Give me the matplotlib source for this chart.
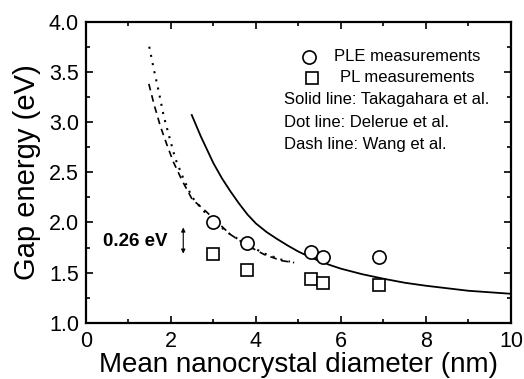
import matplotlib
matplotlib.use("Agg")
import matplotlib.pyplot as plt
from matplotlib.ticker import MultipleLocator, FormatStrFormatter

plt.rcParams['font.family'] = ['Liberation Sans', 'DejaVu Sans']

# PLE measurements (circles)
ple_d = [3.0, 3.8, 5.3, 5.58, 6.9]
ple_e = [2.00, 1.80, 1.71, 1.66, 1.66]
# PL measurements (squares)
pl_d = [2.98, 3.80, 5.30, 5.58, 6.90]
pl_e = [1.69, 1.53, 1.44, 1.40, 1.38]

# Solid line: Takagahara et al.
tak_d = [2.49, 2.6, 2.7, 2.8, 2.9, 3.0, 3.2, 3.4, 3.6, 3.8, 4.0, 4.25, 4.5, 4.75,
         5.0, 5.25, 5.5, 5.75, 6.0, 6.5, 7.0, 7.5, 8.0, 8.5, 9.0, 9.5, 10.0]
tak_e = [3.07, 2.96, 2.86, 2.77, 2.68, 2.59, 2.44, 2.31, 2.19, 2.08, 1.99, 1.905, 1.835, 1.77,
         1.71, 1.66, 1.615, 1.575, 1.54, 1.485, 1.44, 1.40, 1.37, 1.345, 1.32, 1.305, 1.29]

# Dot line: Delerue et al.
del_d = [1.49, 1.60, 1.72, 1.83, 1.97, 2.10, 2.30, 2.50, 2.80, 3.10, 3.40, 3.80, 4.20, 4.60, 4.80]
del_e = [3.75, 3.52, 3.29, 3.06, 2.84, 2.64, 2.43, 2.25, 2.10, 1.98, 1.88, 1.78, 1.69, 1.63, 1.61]

# Dash line: Wang et al.
wang_d = [1.48, 1.60, 1.75, 1.90, 2.06, 2.26, 2.50, 2.80, 3.10, 3.40, 3.80, 4.20, 4.60, 4.90]
wang_e = [3.38, 3.18, 2.96, 2.78, 2.60, 2.42, 2.23, 2.12, 2.00, 1.88, 1.77, 1.68, 1.62, 1.60]

fig = plt.figure(figsize=(5.24, 3.79), dpi=100)
ax = fig.add_axes([0.164, 0.148, 0.811, 0.795])

ax.plot(tak_d, tak_e, '-', color='black', lw=1.3)
ax.plot(del_d, del_e, color='black', lw=1.5, linestyle=(0, (1, 3)))
ax.plot(wang_d, wang_e, color='black', lw=1.2, linestyle=(0, (4, 3)))

ax.plot(ple_d, ple_e, 'o', mfc='white', mec='black', mew=1.2, ms=9.5, ls='none')
ax.plot(pl_d, pl_e, 's', mfc='white', mec='black', mew=1.2, ms=8.8, ls='none')

ax.set_xlim(0, 10)
ax.set_ylim(1.0, 4.0)
ax.xaxis.set_major_locator(MultipleLocator(2))
ax.xaxis.set_minor_locator(MultipleLocator(1))
ax.yaxis.set_major_locator(MultipleLocator(0.5))
ax.yaxis.set_minor_locator(MultipleLocator(0.25))
ax.yaxis.set_major_formatter(FormatStrFormatter('%.1f'))

ax.tick_params(which='both', direction='in', top=True, right=True, width=1.2)
ax.tick_params(which='major', length=5, labelsize=15.5)
ax.tick_params(axis='x', which='major', pad=6)
ax.tick_params(axis='y', which='major', pad=5)
ax.tick_params(which='minor', length=3)
for s in ax.spines.values():
    s.set_linewidth(1.6)

ax.set_xlabel('Mean nanocrystal diameter (nm)', fontsize=20, labelpad=0)
ax.set_ylabel('Gap energy (eV)', fontsize=21, labelpad=6)

# Legend-like annotations
ax.plot([5.24], [3.65], 'o', mfc='white', mec='black', mew=1.2, ms=9.5)
ax.text(5.83, 3.65, 'PLE measurements', fontsize=12, va='center', ha='left')
ax.plot([5.31], [3.44], 's', mfc='white', mec='black', mew=1.2, ms=8.8)
ax.text(5.98, 3.44, 'PL measurements', fontsize=12, va='center', ha='left')
ax.text(4.65, 3.22, 'Solid line: Takagahara et al.', fontsize=12, va='center', ha='left')
ax.text(4.65, 3.00, 'Dot line: Delerue et al.', fontsize=12, va='center', ha='left')
ax.text(4.65, 2.78, 'Dash line: Wang et al.', fontsize=12, va='center', ha='left')

ax.text(0.40, 1.81, '0.26 eV', fontsize=13.5, fontweight='bold', va='center', ha='left')
ax.annotate('', xy=(2.29, 1.69), xytext=(2.29, 1.95),
            arrowprops=dict(arrowstyle='<|-|>', color='black', lw=0.8,
                            mutation_scale=6, shrinkA=0, shrinkB=0))

fig.savefig('out.png', dpi=100)
